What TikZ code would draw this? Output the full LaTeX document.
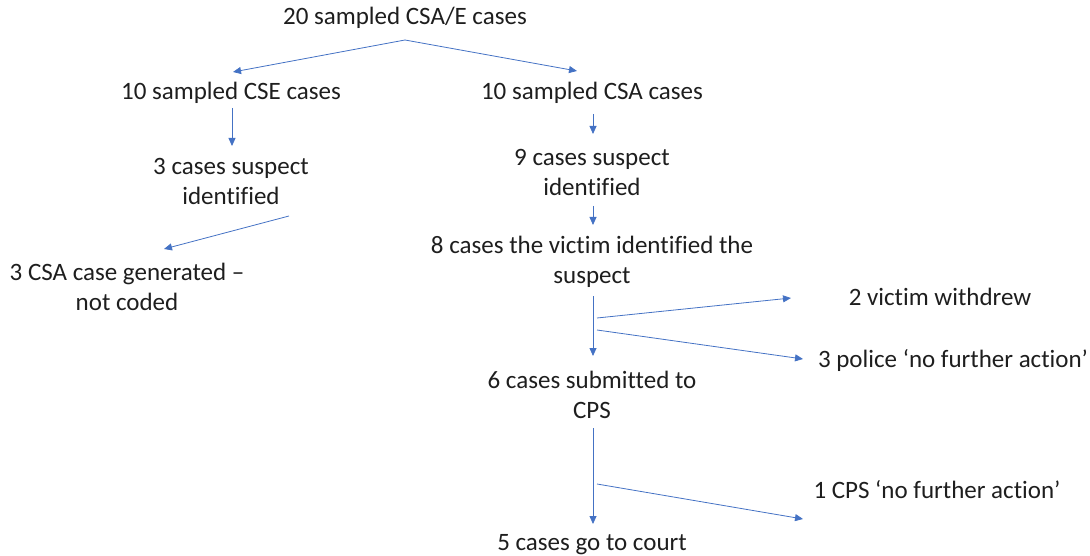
\documentclass[tikz,border=0pt]{standalone}
\usepackage{fontspec}
\setmainfont[Ligatures=NoCommon]{Carlito}
\usetikzlibrary{arrows.meta}
\definecolor{flowblue}{HTML}{4472C4}
\definecolor{labelink}{HTML}{1E1E1E}
\begin{document}
\begin{tikzpicture}[x=1pt,y=-1pt,
  lbl/.style={inner sep=0pt, align=center, text=labelink,
    font=\fontsize{25}{30}\selectfont},
  flow/.style={draw=flowblue, line width=0.8pt,
    -{Triangle[length=8pt,width=7pt]}}]
\path[use as bounding box] (0,0) rectangle (1090,556);

% case counts
\node[lbl] (all) at (405,18) {20 sampled CSA/E cases};
\node[lbl] (cse) at (231,93) {10 sampled CSE cases};
\node[lbl] (csa) at (592,93) {10 sampled CSA cases};
\node[lbl] (cseid) at (231,181) {3 cases suspect\\identified};
\node[lbl] (csaid) at (592,172) {9 cases suspect\\identified};
\node[lbl] (victim) at (592,262) {8 cases the victim identified the\\suspect};
\node[lbl] (gen) at (127,287) {3 CSA case generated –\\not coded};
\node[lbl] (withdrew) at (940,297) {2 victim withdrew};
\node[lbl] (pnfa) at (953,360) {3 police ‘no further action’};
\node[lbl] (cps) at (592,395) {6 cases submitted to\\CPS};
\node[lbl] (cnfa) at (937,490) {1 CPS ‘no further action’};
\node[lbl] (court) at (592,545) {5 cases go to court};

% arrow end points
\coordinate (s1) at (405,40);
\coordinate (e1) at (233,72);
\coordinate (e2) at (577,71);
\coordinate (s3) at (232,108);
\coordinate (e3) at (232,146);
\coordinate (s4) at (593,114);
\coordinate (e4) at (593,134);
\coordinate (s5) at (593,206);
\coordinate (e5) at (593,225);
\coordinate (s6) at (289,216);
\coordinate (e6) at (164,249);
\coordinate (s7) at (593,296);
\coordinate (e7) at (593,356);
\coordinate (s8) at (597,318);
\coordinate (e8) at (791,298);
\coordinate (s9) at (597,330);
\coordinate (e9) at (803,359);
\coordinate (s10) at (593,428);
\coordinate (e10) at (593,524);
\coordinate (s11) at (597,484);
\coordinate (e11) at (803,519);

\draw[flow] (s1) -- (e1);
\draw[flow] (s1) -- (e2);
\draw[flow] (s3) -- (e3);
\draw[flow] (s4) -- (e4);
\draw[flow] (s5) -- (e5);
\draw[flow] (s6) -- (e6);
\draw[flow] (s7) -- (e7);
\draw[flow] (s8) -- (e8);
\draw[flow] (s9) -- (e9);
\draw[flow] (s10) -- (e10);
\draw[flow] (s11) -- (e11);
\end{tikzpicture}
\end{document}
